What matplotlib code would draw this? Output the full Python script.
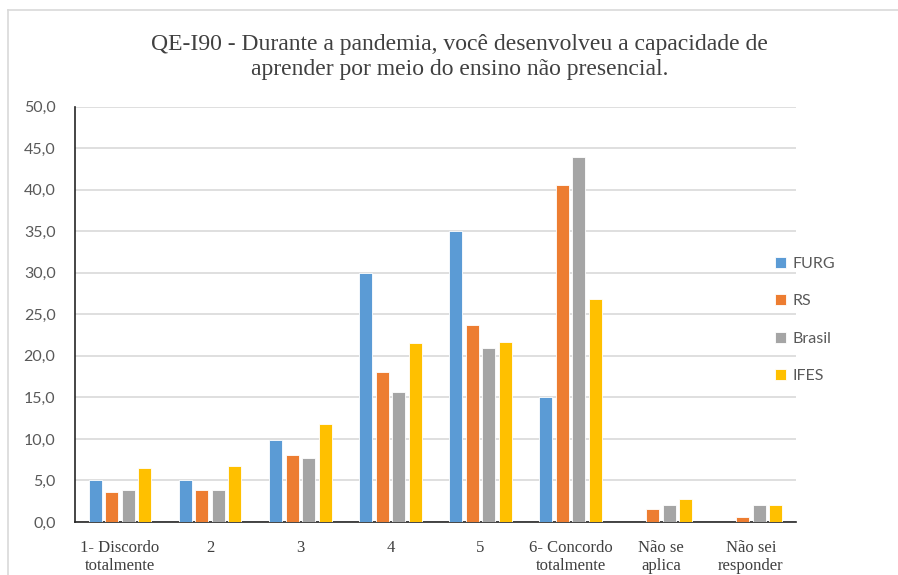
import numpy as np
import matplotlib.pyplot as plt
from matplotlib.lines import Line2D

# categorias da escala e percentuais por grupo
categorias = ["1- Discordo\ntotalmente", "2", "3", "4", "5",
              "6- Concordo\ntotalmente", "Não se\naplica", "Não sei\nresponder"]
furg = [5.0, 5.0, 9.9, 30.0, 35.0, 15.0, 0.0, 0.0]
rs = [3.6, 3.8, 8.1, 18.0, 23.7, 40.6, 1.6, 0.6]
brasil = [3.9, 3.8, 7.7, 15.6, 20.9, 43.9, 2.0, 2.0]
ifes = [6.5, 6.7, 11.8, 21.5, 21.7, 26.8, 2.8, 2.0]

series = [("FURG", furg, "#5B9BD5"), ("RS", rs, "#ED7D31"),
          ("Brasil", brasil, "#A5A5A5"), ("IFES", ifes, "#FFC000")]

fig = plt.figure(figsize=(8.98, 5.75), dpi=100)
ax = fig.add_axes([0.0835, 0.0922, 0.8029, 0.7222])

x = np.arange(len(categorias))
larg = 0.145
passo = 0.183
for i, (nome, vals, cor) in enumerate(series):
    ax.bar(x + (i - 1.5) * passo, vals, larg, color=cor, label=nome,
           edgecolor="white", linewidth=0.6, zorder=3)

ax.set_xlim(-0.5, len(categorias) - 0.5)
ax.set_ylim(0, 50)
ax.set_yticks(np.arange(0, 51, 5))
ax.set_yticklabels([f"{v:.1f}".replace(".", ",") for v in np.arange(0, 51, 5)],
                   fontfamily="Lato", fontsize=11.5, color="#595959")
ax.set_xticks(x)
ax.set_xticklabels(categorias, fontfamily="Liberation Serif", fontsize=12,
                   color="#404040", linespacing=1.15)
ax.tick_params(length=0, pad=13)
ax.tick_params(axis="y", pad=14)
ax.yaxis.grid(True, color="#D9D9D9", linewidth=1.2, zorder=0)
for s in ["top", "right"]:
    ax.spines[s].set_visible(False)
ax.spines["left"].set_color("#262626")
ax.spines["bottom"].set_color("#262626")
ax.spines["left"].set_linewidth(1.2)
ax.spines["bottom"].set_linewidth(1.2)

fig.text(0.512, 0.901,
         "QE-I90 - Durante a pandemia, você desenvolveu a capacidade de\n"
         "aprender por meio do ensino não presencial.",
         ha="center", va="center", fontfamily="Liberation Serif",
         fontsize=17, color="#404040", linespacing=1.25)

leg = ax.legend(loc="upper left", bbox_to_anchor=(0.951, 0.673), frameon=False,
                prop={"family": "Lato", "size": 11.5}, handlelength=0.7,
                handleheight=0.7, handletextpad=0.4, labelspacing=1.45)
for t in leg.get_texts():
    t.set_color("#595959")

# moldura cinza da área do gráfico
fig.add_artist(Line2D([0.009, 1.0], [0.982, 0.982], color="#D9D9D9", lw=1.2))
fig.add_artist(Line2D([0.009, 0.009], [0.0, 0.982], color="#D9D9D9", lw=1.2))

fig.savefig("out.png", dpi=100)
